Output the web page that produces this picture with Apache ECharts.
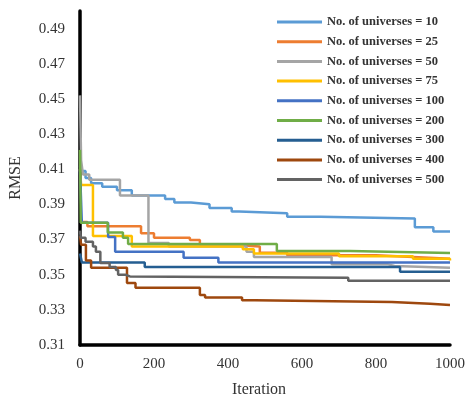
<!DOCTYPE html>
<html>
<head>
<meta charset="utf-8">
<script src="https://cdn.jsdelivr.net/npm/echarts@6/dist/echarts.min.js"></script>
<style>
  html, body { margin: 0; padding: 0; background: #fff; }
  #main { width: 466px; height: 398px; }
</style>
</head>
<body>
<div id="main"></div>
<script>
// legend names
const names = [
  "No. of universes = 10",
  "No. of universes = 25",
  "No. of universes = 50",
  "No. of universes = 75",
  "No. of universes = 100",
  "No. of universes = 200",
  "No. of universes = 300",
  "No. of universes = 400",
  "No. of universes = 500",
];
const colors = ["#5B9BD5", "#ED7D31", "#A5A5A5", "#FFC000", "#4472C4", "#70AD47", "#255E91", "#9E480E", "#636363"];

// [iteration, RMSE] – each point is where a new best value starts
const u10 = [[0, 0.412], [5, 0.409], [15, 0.405], [30, 0.402], [60, 0.4], [100, 0.398], [140, 0.395], [230, 0.393], [255, 0.391], [300, 0.39], [350, 0.388], [410, 0.386], [430, 0.385], [560, 0.383], [650, 0.382], [905, 0.377], [955, 0.3745], [1000, 0.3745]];
const u25 = [[0, 0.38], [20, 0.3775], [165, 0.3735], [200, 0.371], [297, 0.3698], [324, 0.367], [400, 0.366], [486, 0.3625], [560, 0.361], [800, 0.36], [900, 0.359], [1000, 0.359]];
const u50 = [[0, 0.452], [3, 0.415], [8, 0.407], [25, 0.404], [108, 0.395], [185, 0.368], [240, 0.366], [450, 0.363], [470, 0.36], [680, 0.356], [830, 0.355], [850, 0.354], [1000, 0.354]];
const u75 = [[0, 0.41], [3, 0.401], [35, 0.372], [140, 0.366], [440, 0.3645], [470, 0.362], [700, 0.3605], [900, 0.359], [1000, 0.358]];
const u100 = [[0, 0.41], [5, 0.3795], [76, 0.3715], [95, 0.363], [280, 0.3597], [374, 0.357], [1000, 0.357]];
const u200 = [[0, 0.421], [2, 0.3795], [75, 0.374], [116, 0.371], [130, 0.3675], [532, 0.3635], [730, 0.3624], [1000, 0.3624]];
const u300 = [[0, 0.362], [5, 0.357], [175, 0.3544], [865, 0.3516], [1000, 0.3516]];
const u400 = [[0, 0.372], [3, 0.367], [16, 0.358], [30, 0.354], [127, 0.3453], [150, 0.3425], [324, 0.3385], [338, 0.337], [438, 0.3355], [473, 0.3345], [843, 0.3334], [946, 0.3328], [1000, 0.3328]];
const u500 = [[0, 0.375], [2, 0.371], [15, 0.3687], [35, 0.366], [43, 0.363], [55, 0.3567], [80, 0.3544], [97, 0.3527], [103, 0.35], [122, 0.349], [135, 0.3482], [725, 0.3465], [1000, 0.3465]];
const allData = [u10, u25, u50, u75, u100, u200, u300, u400, u500];

const font = "Liberation Serif";

const chart = echarts.init(document.getElementById("main"));
chart.setOption({
  animation: false,
  color: colors,
  grid: { left: 80, right: 16, top: 11, bottom: 53, outerBoundsMode: "none" },
  legend: {
    orient: "vertical",
    left: 277,
    top: 15,
    padding: 0,
    icon: "rect",
    itemWidth: 45,
    itemHeight: 3,
    itemGap: 5.7,
    selectedMode: false,
    data: names,
    textStyle: { fontFamily: font, fontSize: 12.5, fontWeight: "bold", color: "#333", lineHeight: 14 },
  },
  xAxis: {
    type: "value",
    min: 0,
    max: 1000,
    interval: 200,
    name: "Iteration",
    nameLocation: "middle",
    nameGap: 37,
    nameTextStyle: { fontFamily: font, fontSize: 16, color: "#333", padding: [0, 12, 0, 0] },
    axisLine: { show: true, lineStyle: { color: "#000", width: 3.5 } },
    axisTick: { show: false },
    splitLine: { show: false },
    axisLabel: { fontFamily: font, fontSize: 15, color: "#333", margin: 12, formatter: (v) => String(v) },
  },
  yAxis: {
    type: "value",
    min: 0.31,
    max: 0.5,
    interval: 0.02,
    name: "RMSE",
    nameLocation: "middle",
    nameGap: 56,
    nameTextStyle: { fontFamily: font, fontSize: 16, color: "#333" },
    axisLine: { show: true, lineStyle: { color: "#000", width: 3.5 } },
    axisTick: { show: false },
    splitLine: { show: false },
    axisLabel: {
      fontFamily: font,
      fontSize: 15,
      color: "#333",
      margin: 15,
      showMaxLabel: false,
      formatter: (v) => v.toFixed(2),
    },
  },
  series: names.map((n, i) => ({
    name: n,
    type: "line",
    step: "end",
    showSymbol: false,
    lineStyle: { width: 2.5, color: colors[i] },
    itemStyle: { color: colors[i] },
    data: allData[i],
  })),
});
</script>
</body>
</html>
